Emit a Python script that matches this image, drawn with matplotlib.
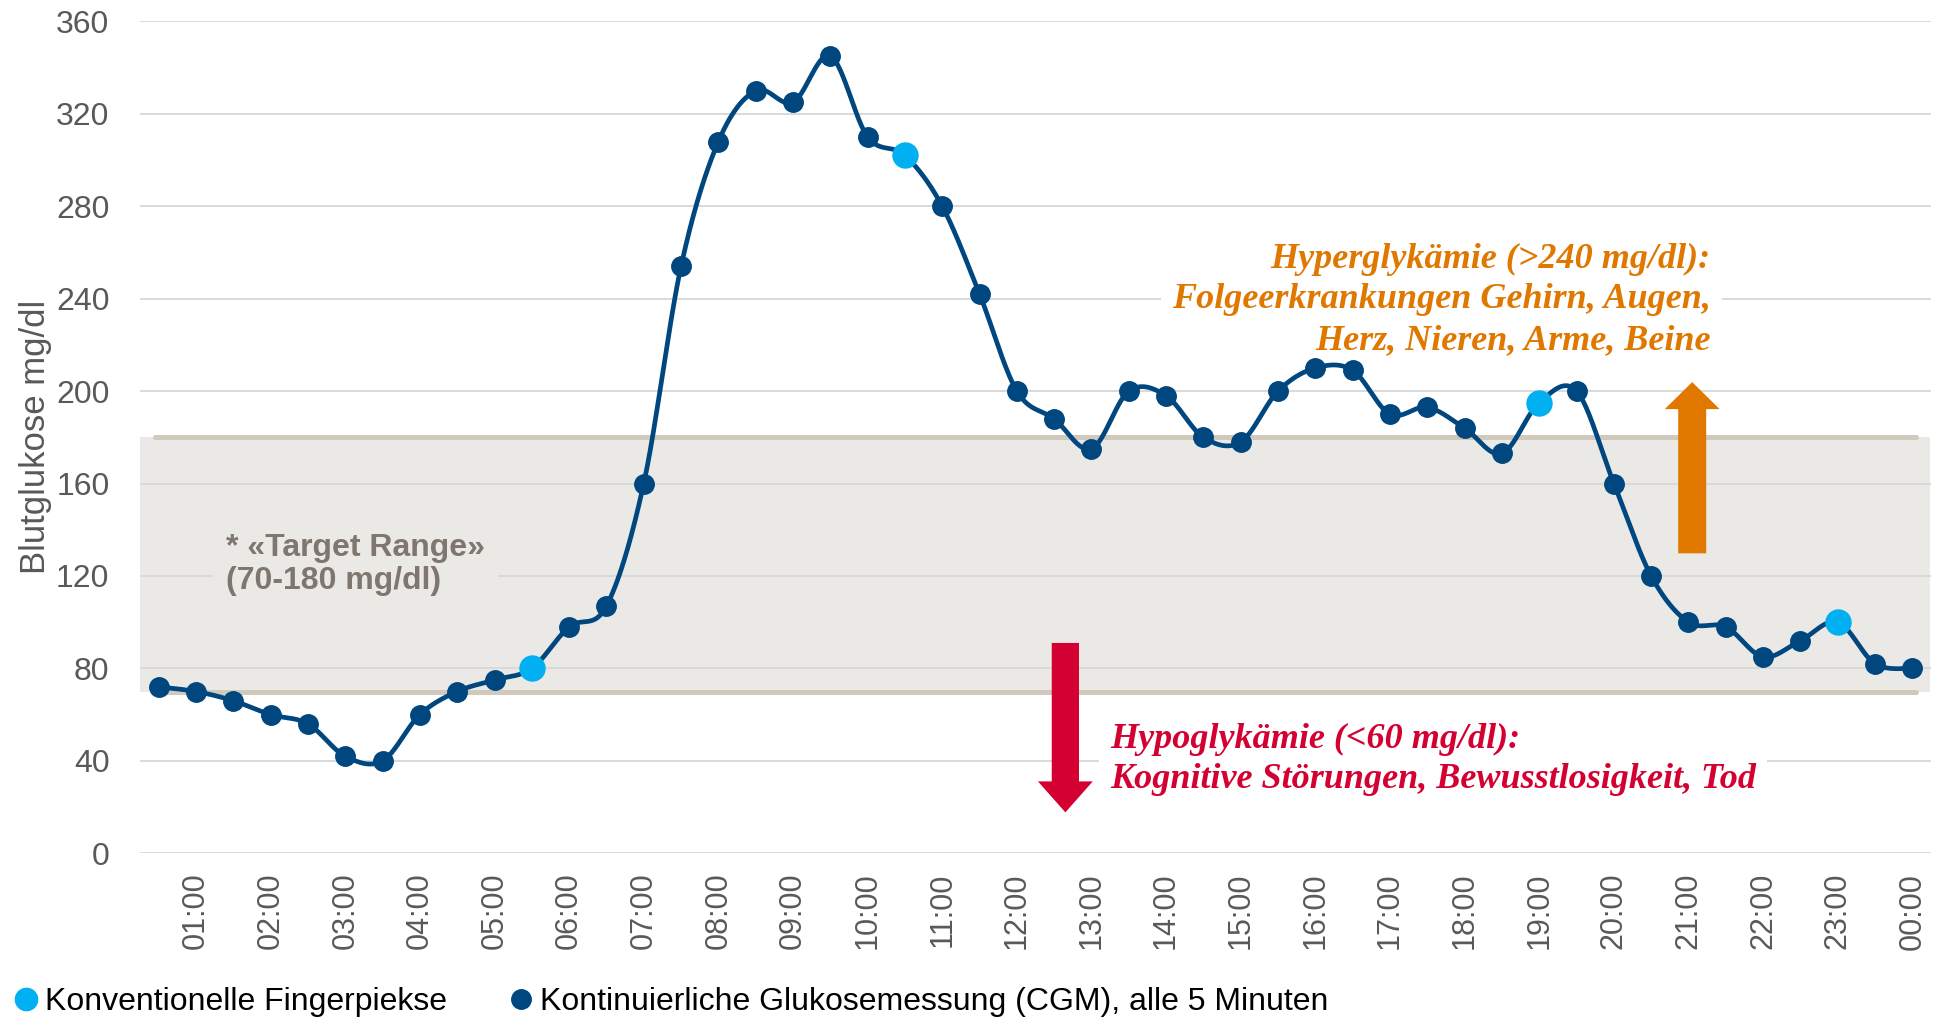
import numpy as np
import matplotlib
matplotlib.use("Agg")
import matplotlib.pyplot as plt
from matplotlib.patches import FancyArrow
from matplotlib.lines import Line2D

# ---------------- data ----------------
times = ["00:30", "01:00", "01:30", "02:00", "02:30", "03:00", "03:30", "04:00",
         "04:30", "05:00", "05:30", "06:00", "06:30", "07:00", "07:30", "08:00",
         "08:30", "09:00", "09:30", "10:00", "10:30", "11:00", "11:30", "12:00",
         "12:30", "13:00", "13:30", "14:00", "14:30", "15:00", "15:30", "16:00",
         "16:30", "17:00", "17:30", "18:00", "18:30", "19:00", "19:30", "20:00",
         "20:30", "21:00", "21:30", "22:00", "22:30", "23:00", "23:30", "00:00"]
cgm = [72, 70, 66, 60, 56, 42, 40, 60,
       70, 75, 80, 98, 107, 160, 254, 308,
       330, 325, 345, 310, 302, 280, 242, 200,
       188, 175, 200, 198, 180, 178, 200, 210,
       209, 190, 193, 184, 173, 195, 200, 160,
       120, 100, 98, 85, 92, 100, 82, 80]
finger_times = ["05:30", "10:30", "19:00", "23:00"]
finger_values = [80, 302, 195, 100]
target_low, target_high = 70, 180
yticks = [0, 40, 80, 120, 160, 200, 240, 280, 320, 360]

# ---------------- style ----------------
DARK = "#00467f"
LIGHT = "#00b0f0"
BAND = "#ebe9e5"
BAND_EDGE = "#d2c9bd"
GRID = "#d9d9d9"
TXT = "#595959"
RED = "#d50032"
ORANGE = "#e07800"

plt.rcParams["font.family"] = ["Liberation Sans", "DejaVu Sans"]

fig = plt.figure(figsize=(19.45, 10.17), dpi=100)
ax = fig.add_axes([0.072, 0.161, 0.9208, 0.818])

x = np.arange(len(times))


def catmull_rom(xs, ys, n=30):
    xs = np.asarray(xs, float)
    ys = np.asarray(ys, float)
    px = np.concatenate([[xs[0]], xs, [xs[-1]]])
    py = np.concatenate([[ys[0]], ys, [ys[-1]]])
    outx, outy = [], []
    t = np.linspace(0, 1, n, endpoint=False)
    for i in range(1, len(px) - 2):
        p0x, p1x, p2x, p3x = px[i - 1:i + 3]
        p0y, p1y, p2y, p3y = py[i - 1:i + 3]
        c1x = p1x + (p2x - p0x) / 6
        c1y = p1y + (p2y - p0y) / 6
        c2x = p2x - (p3x - p1x) / 6
        c2y = p2y - (p3y - p1y) / 6
        b0 = (1 - t) ** 3
        b1 = 3 * (1 - t) ** 2 * t
        b2 = 3 * (1 - t) * t ** 2
        b3 = t ** 3
        outx.append(b0 * p1x + b1 * c1x + b2 * c2x + b3 * p2x)
        outy.append(b0 * p1y + b1 * c1y + b2 * c2y + b3 * p2y)
    outx.append([xs[-1]])
    outy.append([ys[-1]])
    return np.concatenate(outx), np.concatenate(outy)


# band
ax.axhspan(target_low, target_high, xmin=0, xmax=0.9995, color=BAND, zorder=0.5, lw=0)
# grid lines
for yt in yticks:
    ax.axhline(yt, color=GRID, lw=1.4, zorder=1)
# band borders
for yb in (target_low, target_high):
    ax.plot([-0.1, 47.1], [yb, yb], color=BAND_EDGE, lw=3.6,
            solid_capstyle="round", zorder=1.5)

# smooth curve
sx, sy = catmull_rom(x, cgm)
ax.plot(sx, sy, color=DARK, lw=3.4, zorder=3, solid_capstyle="round")
ax.plot(x, cgm, "o", color=DARK, ms=14, zorder=4, lw=0)
fx = [times.index(t) for t in finger_times]
ax.plot(fx, finger_values, "o", color=LIGHT, ms=18, zorder=5, lw=0)

# arrows
ax.add_patch(FancyArrow(24.3, 91, 0, -(91 - 17.7), width=0.73, head_width=1.47,
                        head_length=13.4, length_includes_head=True,
                        color=RED, lw=0, zorder=4))
ax.add_patch(FancyArrow(41.1, 129.8, 0, 203.9 - 129.8, width=0.75, head_width=1.47,
                        head_length=11.7, length_includes_head=True,
                        color=ORANGE, lw=0, zorder=4))

# texts
ax.text(1.8, 125, "* «Target Range»\n(70-180 mg/dl)", fontsize=23, fontweight="bold",
        color="#7f776f", ha="left", va="center", linespacing=1.15, zorder=2,
        bbox=dict(boxstyle="square,pad=0.4", fc=BAND, ec="none"))
serif = ["Liberation Serif", "DejaVu Serif"]
ax.text(25.5, 40.5, "Hypoglykämie (<60 mg/dl):\nKognitive Störungen, Bewusstlosigkeit, Tod",
        fontsize=26, fontstyle="italic", fontweight="bold", family=serif,
        color=RED, ha="left", va="center", linespacing=1.3, zorder=2,
        bbox=dict(boxstyle="square,pad=0.3", fc="white", ec="none"))
ax.text(41.6, 239.5, "Hyperglykämie (>240 mg/dl):\nFolgeerkrankungen Gehirn, Augen,\nHerz, Nieren, Arme, Beine",
        fontsize=26, fontstyle="italic", fontweight="bold", family=serif,
        color=ORANGE, ha="right", va="center", linespacing=1.3, zorder=2,
        multialignment="right",
        bbox=dict(boxstyle="square,pad=0.3", fc="white", ec="none"))

# axes
ax.set_xlim(-0.5, len(times) - 0.5)
ax.set_ylim(0, 360)
ax.set_yticks(yticks)
ax.set_yticklabels([str(v) for v in yticks])
tick_idx = [i for i, t in enumerate(times) if t.endswith(":00")]
ax.set_xticks(tick_idx)
ax.set_xticklabels([times[i] for i in tick_idx], rotation=90, va="top", ha="center")
ax.tick_params(axis="y", length=0, pad=22, labelsize=23, labelcolor=TXT)
ax.tick_params(axis="x", length=0, pad=14, labelsize=22, labelcolor=TXT)
for s in ax.spines.values():
    s.set_visible(False)
ax.set_ylabel("Blutglukose mg/dl", fontsize=25, color=TXT, labelpad=10)
ax.yaxis.set_label_coords(-0.049, 0.5)

handles = [Line2D([], [], marker="o", ls="none", color=LIGHT, ms=16),
           Line2D([], [], marker="o", ls="none", color=DARK, ms=14)]
labels = ["Konventionelle Fingerpiekse", "Kontinuierliche Glukosemessung (CGM), alle 5 Minuten"]
fig.legend(handles, labels, loc="center left", bbox_to_anchor=(0.0084, 0.015), ncol=2,
           frameon=False, fontsize=23, handlelength=0.6, handletextpad=0.3,
           columnspacing=2.0, borderpad=0, borderaxespad=0)

fig.savefig("out.png", dpi=100)
